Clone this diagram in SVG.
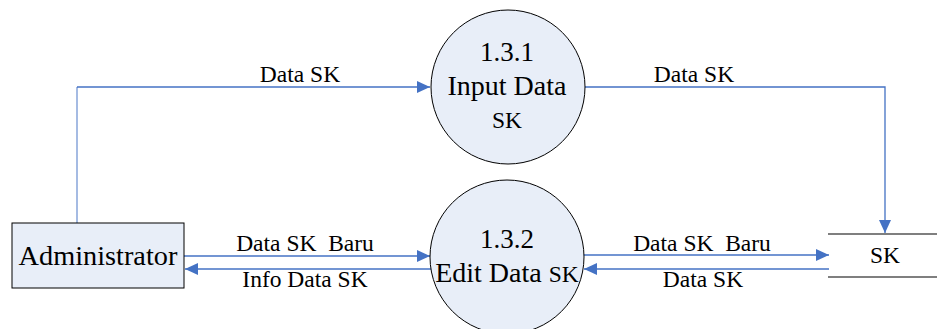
<svg xmlns="http://www.w3.org/2000/svg" width="937" height="329" viewBox="0 0 937 329">
<style>
text{font-family:'Liberation Serif','Times New Roman',serif;fill:#000}
.flow{fill:none;stroke:#4472C4;stroke-width:1.3}
.light{fill:none;stroke:#8FAADC;stroke-width:1.6}
.proc{fill:#E8EEF8;stroke:#000;stroke-width:1}
</style>
<defs>
<marker id="ah" markerUnits="userSpaceOnUse" markerWidth="14" markerHeight="12" refX="13" refY="6" orient="auto">
<path d="M0,0 L13,6 L0,12 z" fill="#4472C4"/>
</marker>
</defs>
<rect width="937" height="329" fill="#fff"/>
<g id="connectors">
<line class="light" x1="77" y1="223" x2="77" y2="87"/>
<polyline class="flow" points="77,87 430,87" marker-end="url(#ah)"/>
<polyline class="flow" points="584,87 885,87 885,233" marker-end="url(#ah)"/>
<line class="flow" x1="184" y1="256" x2="430" y2="256" marker-end="url(#ah)"/>
<line class="flow" x1="431" y1="269" x2="185" y2="269" marker-end="url(#ah)"/>
<line class="flow" x1="583" y1="255" x2="829" y2="255" marker-end="url(#ah)"/>
<line class="flow" x1="829" y1="269" x2="584" y2="269" marker-end="url(#ah)"/>
<text x="300" y="82" font-size="23.5" text-anchor="middle">Data SK</text>
<text x="694" y="82" font-size="23.5" text-anchor="middle">Data SK</text>
<text x="305" y="251" font-size="23.5" text-anchor="middle" xml:space="preserve">Data SK  Baru</text>
<text x="305" y="287" font-size="23.5" text-anchor="middle">Info Data SK</text>
<text x="702" y="251" font-size="23.5" text-anchor="middle" xml:space="preserve">Data SK  Baru</text>
<text x="703" y="287" font-size="23.5" text-anchor="middle">Data SK</text>
</g>
<g id="administrator">
<rect x="12" y="223" width="172" height="65" fill="#E8EEF8" stroke="#000" stroke-width="1"/>
<text x="98" y="265" font-size="28.3" text-anchor="middle">Administrator</text>
</g>
<g id="p131">
<circle class="proc" cx="508" cy="87" r="77"/>
<text x="507" y="61" font-size="27" text-anchor="middle">1.3.1</text>
<text x="507" y="95" font-size="28" text-anchor="middle">Input Data</text>
<text x="507" y="128" font-size="23.5" text-anchor="middle">SK</text>
</g>
<g id="p132">
<circle class="proc" cx="507" cy="257" r="77"/>
<text x="507" y="248" font-size="27" text-anchor="middle">1.3.2</text>
<text x="507" y="282" text-anchor="middle"><tspan font-size="28">Edit Data </tspan><tspan font-size="23.5">SK</tspan></text>
</g>
<g id="store-sk">
<line x1="828" y1="234" x2="937" y2="234" stroke="#000" stroke-width="1.2"/>
<line x1="828" y1="277" x2="937" y2="277" stroke="#000" stroke-width="1.2"/>
<text x="885" y="263" font-size="23.5" text-anchor="middle">SK</text>
</g>
</svg>
